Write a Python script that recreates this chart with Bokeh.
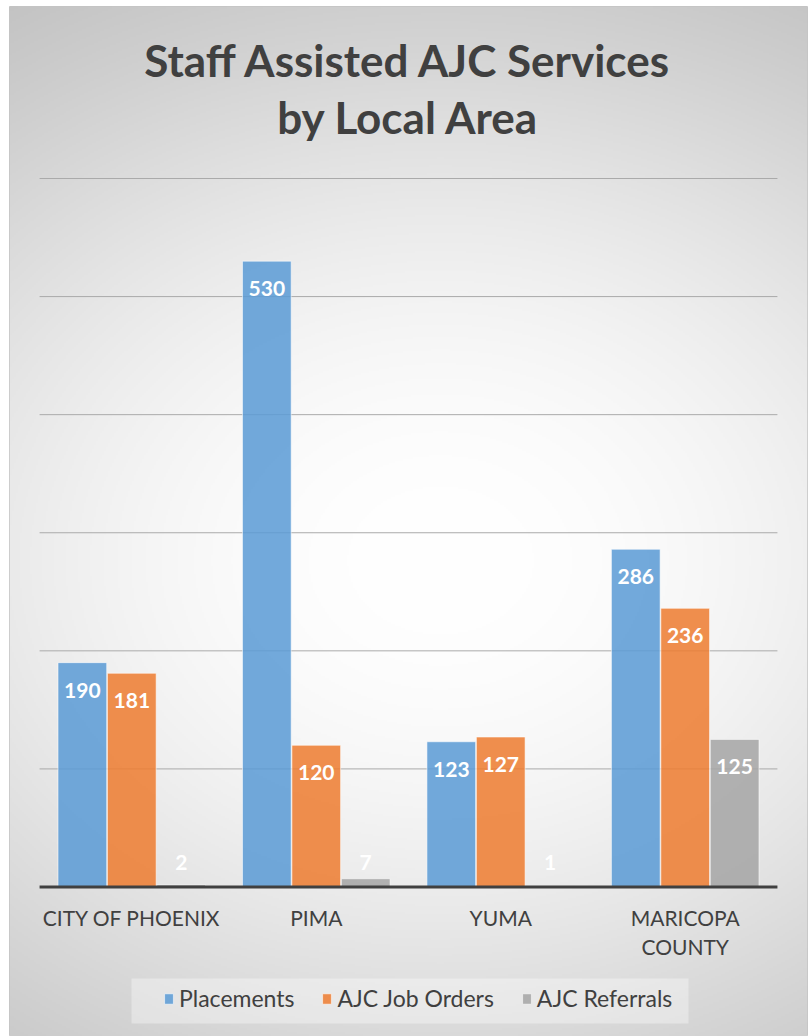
import numpy as np
from bokeh.plotting import figure
from bokeh.models import (ColumnDataSource, FactorRange, Range1d, Legend, LegendItem,
                          Label, BoxAnnotation)
from bokeh.transform import dodge
from bokeh.core.properties import value
from bokeh.embed import file_html
from bokeh.resources import INLINE

# ---------------- data ----------------
categories = ["CITY OF PHOENIX", "PIMA", "YUMA", "MARICOPA COUNTY"]
category_labels = ["CITY OF PHOENIX", "PIMA", "YUMA", "MARICOPA\nCOUNTY"]
series_names = ["Placements", "AJC Job Orders", "AJC Referrals"]
placements = [190, 530, 123, 286]
job_orders = [181, 120, 127, 236]
referrals = [2, 7, 1, 125]
grid_values = [100, 200, 300, 400, 500, 600]
title_lines = ["Staff Assisted AJC Services", "by Local Area"]

# ---------------- styling / layout ----------------
colors = ["#5B9BD5", "#ED7D31", "#A5A5A5"]
FONT = "Lato"
TXT = "#404040"
W, H = 809, 1036
FL, FT, FR, FB = 9, 6, 2, 0
FW, FH = W - FL - FR, H - FT - FB
N = len(categories)
PAD = 0.163
XPU = FW / (N + 2 * PAD)
X0_PX = FL + PAD * XPU
Y0_PX, Y600_PX = 886.5, 178.0          # canvas px of value 0 and 600
PPU = (Y0_PX - Y600_PX) / 600.0
y_top = 600 + (Y600_PX - FT) / PPU
y_bot = -(H - FB - Y0_PX) / PPU


def px_to_val(py):
    return (Y0_PX - py) / PPU


def px_to_x(px):
    return (px - X0_PX) / XPU


p = figure(width=W, height=H, output_backend="svg", toolbar_location=None,
           x_range=FactorRange(factors=categories, range_padding=PAD,
                               range_padding_units="absolute"),
           y_range=Range1d(y_bot, y_top),
           x_axis_location=None, y_axis_location=None,
           min_border_left=FL, min_border_top=FT, min_border_right=FR,
           min_border_bottom=FB, border_fill_color="white",
           outline_line_color="#c4c4c4", outline_line_width=1)
p.grid.visible = False

# ---------------- radial background gradient ----------------
nx, ny = 400, 515
xs_lo, xs_hi = -PAD, N + PAD
jj = np.arange(nx)
ii = np.arange(ny)
Xp = FL + (jj + 0.5) * FW / nx
Yp = (H - FB) - (ii + 0.5) * FH / ny
XX, YY = np.meshgrid(Xp, Yp)
t = 1.15e-4 * (XX - 440) ** 2 + 1.8e-4 * (YY - 560) ** 2
inten = np.clip(255 - 80 * np.tanh(t / 80), 0, 255).astype(np.uint32)
img = (255 << 24) | (inten << 16) | (inten << 8) | inten
p.image_rgba(image=[img.astype(np.uint32)], x=xs_lo, y=y_bot,
             dw=xs_hi - xs_lo, dh=y_top - y_bot)

# ---------------- gridlines ----------------
p.segment(x0=0, x1=N, y0=grid_values, y1=grid_values,
          line_color="#aaaaaa", line_width=1)

# ---------------- bars ----------------
src = ColumnDataSource(dict(cat=categories, s0=placements, s1=job_orders, s2=referrals))
offsets = [-0.268, 0.0, 0.268]
renderers = []
for k, (field, col) in enumerate(zip(["s0", "s1", "s2"], colors)):
    r = p.vbar(x=dodge("cat", offsets[k], range=p.x_range), top=field, width=0.264,
               source=src, fill_color=col, fill_alpha=0.86,
               line_color="white", line_alpha=0.55, line_width=1)
    renderers.append(r)

# ---------------- data labels ----------------
for k, vals in enumerate([placements, job_orders, referrals]):
    lab_y = [v if v * PPU > 45 else 0 for v in vals]
    lab_off = [27.5 if v * PPU > 45 else -25 for v in vals]
    lsrc = ColumnDataSource(dict(cat=categories, y=lab_y, off=lab_off,
                                 txt=[str(v) for v in vals]))
    p.text(x=dodge("cat", offsets[k], range=p.x_range), y="y", text="txt",
           y_offset="off", source=lsrc, text_align="center",
           text_baseline="alphabetic", text_color="white",
           text_font=value(FONT), text_font_style="bold", text_font_size="21px")

# ---------------- baseline (category axis line) ----------------
p.segment(x0=0, x1=N, y0=0, y1=0, line_color="#404040", line_width=3)

# ---------------- category labels ----------------
csrc = ColumnDataSource(dict(cat=categories, lab=category_labels, y=[0] * N))
p.text(x="cat", y="y", text="lab", y_offset=18, source=csrc, text_align="center",
       text_baseline="top", text_color=TXT, text_font=value(FONT),
       text_font_size="21px", text_line_height=1.17)

# ---------------- title ----------------
for line, py in zip(title_lines, [59, 116]):
    p.add_layout(Label(x=N / 2, y=px_to_val(py), text=line,
                       text_align="center", text_baseline="alphabetic",
                       text_color=TXT, text_font=FONT, text_font_style="bold",
                       text_font_size="44px"))

# ---------------- legend ----------------
p.add_layout(BoxAnnotation(left=px_to_x(131), right=px_to_x(688),
                           top=px_to_val(978), bottom=px_to_val(1023),
                           fill_color="white", fill_alpha=0.35, line_alpha=0))
legend = Legend(items=[LegendItem(label=n, renderers=[r]) for n, r in zip(series_names, renderers)],
                orientation="horizontal", location=(144, 14),
                glyph_width=11, glyph_height=13, label_standoff=5, spacing=27,
                padding=10, margin=0, label_text_font=FONT, label_text_font_size="23px",
                label_text_color=TXT, background_fill_alpha=0, border_line_alpha=0)
p.add_layout(legend)

open("out.html", "w").write(file_html(p, INLINE))
